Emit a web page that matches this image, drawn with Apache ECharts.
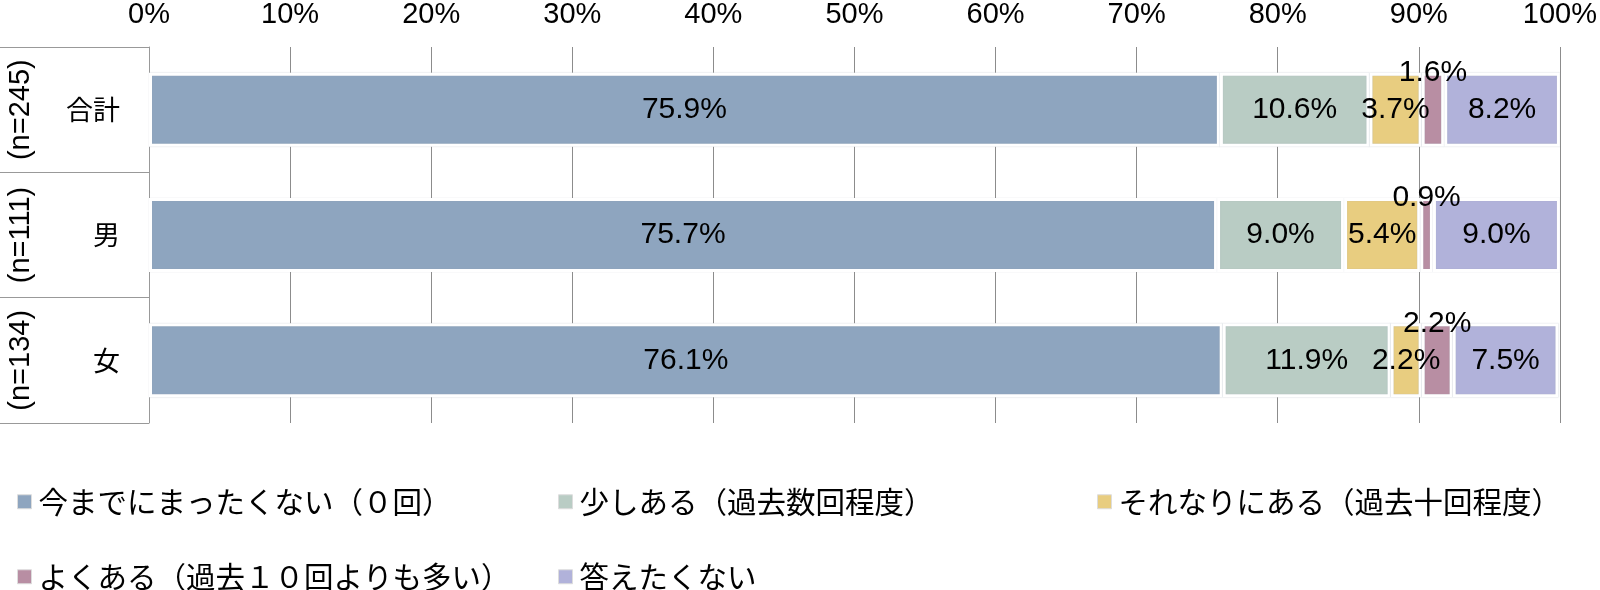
<!DOCTYPE html>
<html lang="ja">
<head>
    <meta charset="UTF-8">
    <title>stacked bar</title>
    <style>
        html, body { margin: 0; padding: 0; background: #fff; }
        .box { width: 1600px; height: 590px; }
    </style>
</head>
<body>
    <div class="box"></div>
    <script src="https://cdn.jsdelivr.net/npm/echarts@6/dist/echarts.min.js"></script>
    <script>
        let categories = ["合計", "男", "女"];
        let nLabels = ["(n=245)", "(n=111)", "(n=134)"];
        let seriesNames = [
            "今までにまったくない（０回）",
            "少しある（過去数回程度）",
            "それなりにある（過去十回程度）",
            "よくある（過去１０回よりも多い）",
            "答えたくない"
        ];
        let never = [75.9, 75.7, 76.1];
        let few = [10.6, 9.0, 11.9];
        let some = [3.7, 5.4, 2.2];
        let often = [1.6, 0.9, 2.2];
        let noAnswer = [8.2, 9.0, 7.5];
        let xTicks = [0, 10, 20, 30, 40, 50, 60, 70, 80, 90, 100];

        let colors = ["#8ea5bf", "#b9ccc4", "#e8cd80", "#b88ea3", "#b1b2da"];
        let font = "'Liberation Sans', Arial, 'Noto Sans CJK JP', sans-serif";
        let jpFont = "'Noto Sans CJK JP', sans-serif";

        let myChart = echarts.init(document.querySelector(".box"));

        let allData = [never, few, some, often, noAnswer];
        let series = allData.map(function (arr, i) {
            return {
                name: seriesNames[i],
                type: "bar",
                stack: "total",
                barWidth: 74,
                data: arr,
                itemStyle: {
                    color: colors[i],
                    borderColor: "#fff",
                    borderWidth: 3,
                    shadowColor: "rgba(150,160,175,0.6)",
                    shadowBlur: 1
                },
                label: {
                    show: true,
                    position: "inside",
                    // よくある の値はバーの上に
                    offset: i === 3 ? [0, -37] : [0, 0],
                    color: "#000",
                    fontSize: 30,
                    fontFamily: font,
                    formatter: function (p) {
                        return p.value.toFixed(1) + "%";
                    }
                }
            }
        });

        // legend in a grid of 3 columns
        let legendPos = [[12, 482], [553, 482], [1092, 482], [12, 557], [553, 557]];
        let legends = seriesNames.map(function (name, i) {
            return {
                data: [name],
                left: legendPos[i][0],
                top: legendPos[i][1],
                icon: "rect",
                itemWidth: 14,
                itemHeight: 14,
                itemGap: 0,
                selectedMode: false,
                itemStyle: {
                    borderColor: "#ddd",
                    borderWidth: 1,
                    shadowBlur: 0
                },
                textStyle: {
                    fontSize: 29.5,
                    fontFamily: jpFont,
                    color: "#000",
                    padding: [0, 0, 0, 2]
                }
            }
        });

        option = {
            animation: false,
            legend: legends,
            grid: {
                left: 149,
                right: 38,
                top: 47,
                bottom: 167
            },
            xAxis: {
                type: "value",
                position: "top",
                min: xTicks[0],
                max: xTicks[xTicks.length - 1],
                interval: 10,
                axisLine: { show: false },
                axisTick: { show: false },
                axisLabel: {
                    formatter: "{value}%",
                    color: "#000",
                    fontSize: 29,
                    fontFamily: font,
                    margin: 18
                },
                splitLine: {
                    show: true,
                    lineStyle: { color: "#8c8c8c", width: 1 }
                }
            },
            yAxis: [{
                type: "category",
                data: categories,
                inverse: true,
                axisLine: { show: true, lineStyle: { color: "#999", width: 1 } },
                axisTick: {
                    show: true,
                    interval: 0,
                    length: 149,
                    lineStyle: { color: "#999", width: 1 }
                },
                axisLabel: {
                    interval: 0,
                    color: "#000",
                    fontSize: 27,
                    fontFamily: jpFont,
                    margin: 29
                }
            }, {
                type: "category",
                data: nLabels,
                inverse: true,
                position: "left",
                axisLine: { show: false },
                axisTick: { show: false },
                axisLabel: {
                    interval: 0,
                    rotate: 90,
                    color: "#000",
                    fontSize: 29,
                    fontFamily: font,
                    margin: 113
                }
            }],
            series: series
        }
        myChart.setOption(option);
    </script>
</body>
</html>
